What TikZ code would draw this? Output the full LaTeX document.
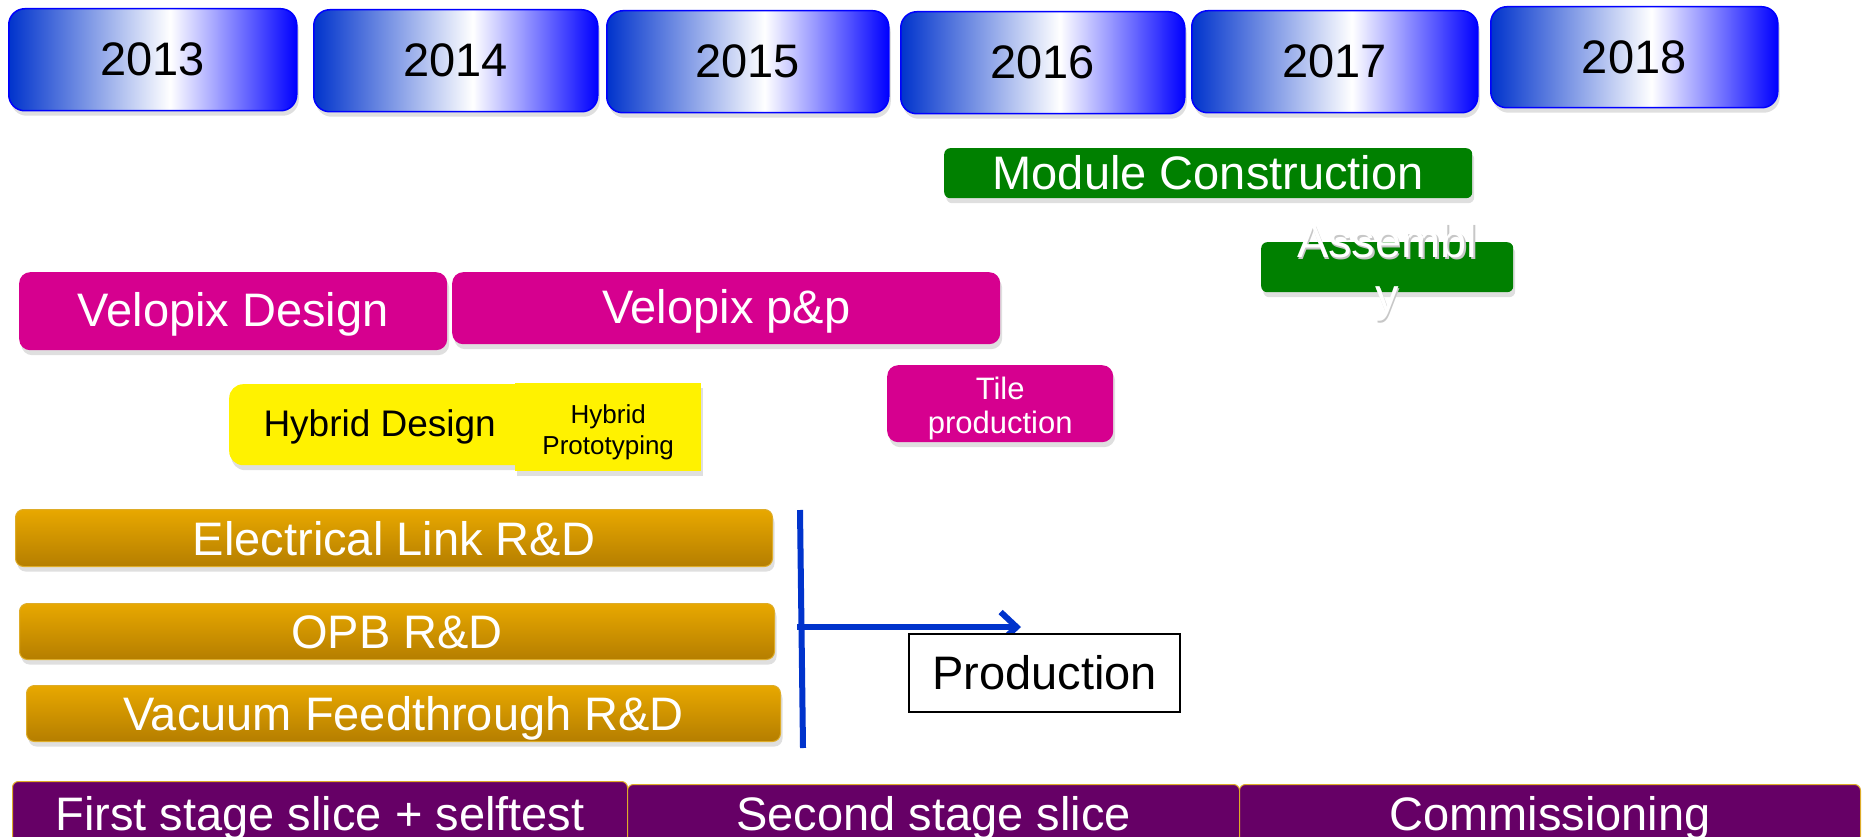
\documentclass[tikz,border=0pt]{standalone}
\usepackage{fontspec}
\setmainfont{Liberation Sans}
\usepackage{xcolor}
\usepackage{tikz}
\usetikzlibrary{calc}
\usetikzlibrary{shadows}
\usetikzlibrary{arrows.meta}
\tikzset{>={Straight Barb[length=16pt,width=30pt]}}

\definecolor{yearblue}{RGB}{0,51,204}
\definecolor{velomag}{RGB}{214,0,143}
\definecolor{modgreen}{RGB}{0,128,0}
\definecolor{goldtop}{RGB}{232,168,0}
\definecolor{goldbot}{RGB}{181,126,0}
\definecolor{goldline}{RGB}{222,172,40}
\definecolor{stagepurple}{RGB}{102,0,102}
\definecolor{lineblue}{RGB}{0,51,204}

\pgfdeclarehorizontalshading{yearshade}{100bp}{color(0bp)=(yearblue); color(25bp)=(yearblue);
	color(53bp)=(white); color(75bp)=(blue); color(100bp)=(blue)}

\newcommand{\timelinefont}{\fontsize{47}{54}\selectfont}
\newcommand{\hybridfont}{\fontsize{37}{44}\selectfont}
\newcommand{\tilefont}{\fontsize{31}{34}\selectfont}
\newcommand{\protofont}{\fontsize{26}{31}\selectfont}

\tikzset{
	boxshadow/.style={drop shadow={shadow xshift=2pt, shadow yshift=-5pt, opacity=0.25}},
	yearbox/.style={draw=blue, line width=1.5pt, rounded corners=16pt, shading=yearshade,
		anchor=north west, inner sep=0pt, minimum width=286pt, minimum height=102pt,
		font=\timelinefont, text=black, boxshadow},
	velobox/.style={fill=velomag, rounded corners=11pt, anchor=north west, inner sep=0pt,
		font=\timelinefont, text=white, text height=34pt, text depth=4pt, boxshadow},
	modbox/.style={fill=modgreen, rounded corners=6pt, anchor=north west, inner sep=0pt,
		font=\timelinefont, text=white, boxshadow},
	hybridbox/.style={fill=yellow, anchor=north west, inner sep=0pt, text=black, boxshadow},
	rdbox/.style={top color=goldtop, bottom color=goldbot, draw=goldline, line width=1pt,
		rounded corners=8pt, anchor=north west, inner sep=0pt, minimum height=57pt,
		font=\timelinefont, text=white, text height=34pt, text depth=0pt, boxshadow},
	stagebox/.style={fill=stagepurple, draw=goldline, line width=1pt, rounded corners=6pt,
		anchor=north west, inner sep=0pt, font=\timelinefont, text=white,
		text height=34pt, text depth=0pt}
}

\begin{document}
\begin{tikzpicture}[x=1pt, y=-1pt]
	\useasboundingbox (0,0) rectangle (1862,837);

	%% Years
	\node[yearbox, minimum width=288pt] (y2013) at (8,8) {2013};
	\node[yearbox, minimum width=284pt] (y2014) at (313,9) {2014};
	\node[yearbox, minimum width=282pt] (y2015) at (606,10) {2015};
	\node[yearbox, minimum width=284pt] (y2016) at (900,11) {2016};
	\node[yearbox] (y2017) at (1191,10) {2017};
	\node[yearbox, minimum width=287pt, minimum height=101pt] (y2018) at (1490,6) {2018};

	%% Modules
	\node[modbox, minimum width=528pt, minimum height=50pt] (modcons) at (944,148) {Module Construction};
	\node[modbox, minimum width=252pt, minimum height=50pt,
		label={[font=\timelinefont, text=black!22, align=center, xshift=1.5pt, yshift=-7pt]center:{Assembl\\y}},
		label={[font=\timelinefont, text=white, align=center, yshift=-5pt]center:{Assembl\\y}}] (assembly) at (1261,242) {};

	%% Velopix
	\node[velobox, minimum width=428pt, minimum height=78pt] (velodes) at (19,272) {Velopix Design};
	\node[velobox, minimum width=548pt, minimum height=72pt] (velopp) at (452,272) {Velopix p\&p};
	\node[velobox, minimum width=226pt, minimum height=77pt,
		label={[font=\tilefont, text=white, align=center, yshift=-5pt]center:{Tile\\production}}] (tile) at (887,365) {};

	%% Hybrid
	\node[hybridbox, rounded corners=14pt, minimum width=301pt, minimum height=81pt,
		font=\hybridfont, text height=27pt, text depth=4pt] (hybdes) at (229,384) {Hybrid Design};
	\node[hybridbox, minimum width=186pt, minimum height=88pt,
		label={[font=\protofont, text=black, align=center, yshift=-5pt]center:{Hybrid\\Prototyping}}] (hybproto) at (515,383) {};

	%% R&D
	\node[rdbox, minimum width=757pt] (elink) at (15,509) {Electrical Link R\&D};
	\node[rdbox, minimum width=755pt, minimum height=56pt] (opb) at (19,603) {OPB R\&D};
	\node[rdbox, minimum width=754pt, minimum height=56pt] (vacuum) at (26,685) {Vacuum Feedthrough R\&D};

	%% Production
	\coordinate[](vtop) at (800,510);
	\coordinate[](vbot) at (803,748);
	\coordinate[](hstart) at (797,627);
	\coordinate[](htip) at (1021,627);
	\draw[line width=6pt, lineblue] (vtop) -- (vbot);
	\draw[->, line width=6pt, lineblue] (hstart) -- (htip);
	\node[draw=black, line width=2pt, fill=white, anchor=north west, inner sep=0pt,
		minimum width=271pt, minimum height=78pt, font=\timelinefont] (prod) at (908,633) {Production};

	%% Stages
	\node[stagebox, minimum width=615pt, minimum height=64pt] (stage1) at (12,781) {First stage slice + selftest};
	\node[stagebox, minimum width=612pt, minimum height=58pt] (stage2) at (627,784) {Second stage slice};
	\node[stagebox, minimum width=621pt, minimum height=58pt] (stage3) at (1239,784) {Commissioning};

\end{tikzpicture}
\end{document}
